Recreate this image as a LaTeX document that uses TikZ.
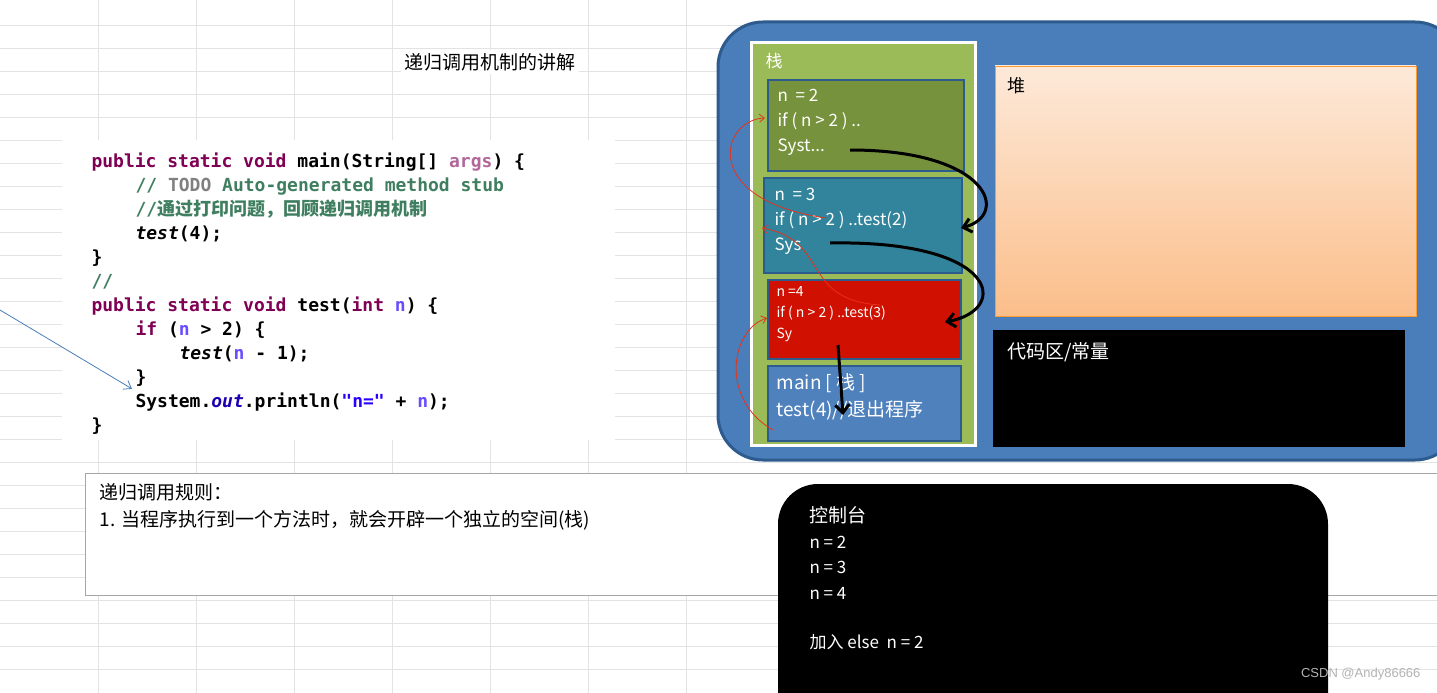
\documentclass[tikz,border=0pt]{standalone}
\usepackage{fontspec}
\setmainfont{Liberation Sans}
\newfontfamily\cjk{Noto Sans CJK SC}
\newfontfamily\codefont{DejaVu Sans Mono}
\usetikzlibrary{positioning,arrows.meta}
\definecolor{gridline}{HTML}{E3E3E3}
\definecolor{memblue}{HTML}{4A7EBB}
\definecolor{memedge}{HTML}{2E5B8E}
\definecolor{stackgreen}{HTML}{9BBB59}
\definecolor{frameolive}{HTML}{76923C}
\definecolor{frameteal}{HTML}{31849B}
\definecolor{framered}{HTML}{D01000}
\definecolor{framemain}{HTML}{4F81BD}
\definecolor{heaptop}{HTML}{FDE9D9}
\definecolor{heapbot}{HTML}{FBBE8A}
\definecolor{kwred}{HTML}{7F0055}
\definecolor{cmtgreen}{HTML}{3F7F5F}
\definecolor{strblue}{HTML}{2A00FF}
\begin{document}
\begin{tikzpicture}
	[x=1pt,y=-1pt,
	frame/.style={draw=memedge,line width=2pt,anchor=north west,minimum height=#1},
	frametext/.style={text=white,align=left,anchor=north west,font=\cjk\fontsize{17}{25}\selectfont},
	codeline/.style={anchor=base west,font=\codefont\bfseries\fontsize{18}{20}\selectfont},
	call/.style={line width=3pt,-{Straight Barb[length=8pt,width=14pt]}},
	back/.style={draw=red!60!brown,line width=0.8pt,-{Straight Barb[length=5pt,width=8pt]}}]
	\useasboundingbox (0,0) rectangle (1437,693);
	% spreadsheet grid
	\foreach \y in {25,48,71,94,117,140,163,186,209,232,255,278,301,324,347,370,393,416,439,462,485,508,531,554,577,600,623,646,669}
		\draw[gridline,line width=0.6pt] (0,\y) -- (1437,\y);
	\foreach \x in {98,196,294,392,490,588,686}
		\draw[gridline,line width=0.6pt] (\x,0) -- (\x,693);
	% title
	\node[font=\cjk\fontsize{19}{22}\selectfont,fill=white] (title) at (490,62) {递归调用机制的讲解};
	% code
	\fill[white] (62,140) rectangle (615,440);
	\node[codeline] (c1) at (88,167) {\textcolor{kwred}{public static void} main(String[] \textcolor{kwred!60}{args}) \{};
	\node[codeline] (c2) at (132,191) {\textcolor{cmtgreen}{// \textcolor{gray}{TODO} Auto-generated method stub}};
	\node[codeline] (c3) at (132,215) {\textcolor{cmtgreen}{//{\cjk 通过打印问题，回顾递归调用机制}}};
	\node[codeline] (c4) at (132,239) {\textit{test}(4);};
	\node[codeline] (c5) at (88,263) {\}};
	\node[codeline] (c6) at (88,287) {\textcolor{cmtgreen}{//}};
	\node[codeline] (c7) at (88,311) {\textcolor{kwred}{public static void} test(\textcolor{kwred}{int} \textcolor{strblue!70}{n}) \{};
	\node[codeline] (c8) at (132,335) {\textcolor{kwred}{if} (\textcolor{strblue!70}{n} > 2) \{};
	\node[codeline] (c9) at (176,359) {\textit{test}(\textcolor{strblue!70}{n} - 1);};
	\node[codeline] (c10) at (132,383) {\}};
	\node[codeline] (c11) at (132,407) {System.\textcolor{strblue!70!black}{\textit{out}}.println(\textcolor{strblue}{"n="} + \textcolor{strblue!70}{n});};
	\node[codeline] (c12) at (88,431) {\}};
	\coordinate (pointer) at (0,310);
	\draw[memblue,line width=0.8pt,-{Straight Barb[length=7pt,width=10pt]}] (pointer) -- (c11.north west);
	% memory
	\draw[memedge,line width=3pt,fill=memblue,rounded corners=45pt] (718,22) rectangle (1460,460);
	\draw[white,line width=3pt,fill=stackgreen] (751,43) rectangle (975,445);
	\node[frametext,text=white] (stk) at (762,50) {栈};
	\node[frame=91pt,fill=frameolive,minimum width=196pt] (f2) at (767,79) {};
	\node[frame=95pt,fill=frameteal,minimum width=198pt] (f3) at (763,177) {};
	\node[frame=79pt,fill=framered,minimum width=193pt] (f4) at (767,279) {};
	\node[frame=75pt,fill=framemain,minimum width=193pt] (fm) at (767,365) {};
	\node[frametext] (t2) at (774,86) {n \ = 2\\if ( n > 2 ) ..\\Syst...};
	\node[frametext] (t3) at (771,185) {n \ = 3\\if ( n > 2 ) ..test(2)\\Sys};
	\node[frametext,font=\cjk\fontsize{14}{21}\selectfont] (t4) at (773,283) {n =4\\if ( n > 2 ) ..test(3)\\Sy};
	\node[frametext,font=\cjk\fontsize{19}{27}\selectfont] (tm) at (773,370) {main [ 栈 ]\\test(4)//退出程序};
	\shade[top color=heaptop,bottom color=heapbot,draw=orange!80] (995,66) rectangle (1416,316);
	\node[frametext,text=black,font=\cjk\fontsize{18}{22}\selectfont] (heap) at (1004,74) {堆};
	\fill[black] (993,330) rectangle (1405,447);
	\node[frametext,font=\cjk\fontsize{19}{22}\selectfont] (const) at (1004,339) {代码区/常量};
	% calls and returns
	\draw[call] (850,150) .. controls (990,150) and (1010,215) .. (961,228);
	\draw[call] (830,243) .. controls (1000,240) and (1010,310) .. (945,322);
	\draw[call] (838,345) -- (843,415);
	\draw[back] (880,305) .. controls (800,300) and (830,240) .. (762,228);
	\draw[back] (826,218) .. controls (700,200) and (720,120) .. (765,118);
	\draw[back] (773,430) .. controls (720,400) and (730,330) .. (767,318);
	% rules
	\draw[gray!70,fill=white] (85,473) rectangle (1437,595);
	\node[anchor=north west,align=left,font=\cjk\fontsize{19}{27}\selectfont] (rules) at (96,480)
		{递归调用规则：\\1. 当程序执行到一个方法时，就会开辟一个独立的空间(栈)};
	% console
	\fill[black,rounded corners=40pt] (778,484) rectangle (1328,740);
	\node[frametext,font=\cjk\fontsize{17}{25.5}\selectfont] (console) at (806,503)
		{{\fontsize{19}{25}\selectfont 控制台}\\n = 2\\n = 3\\n = 4\\[24pt]加入 else \ n = 2};
	\node[anchor=south east,font=\fontsize{13}{15}\selectfont,text=gray!60] (mark) at (1424,684) {CSDN @Andy86666};
\end{tikzpicture}
\end{document}
